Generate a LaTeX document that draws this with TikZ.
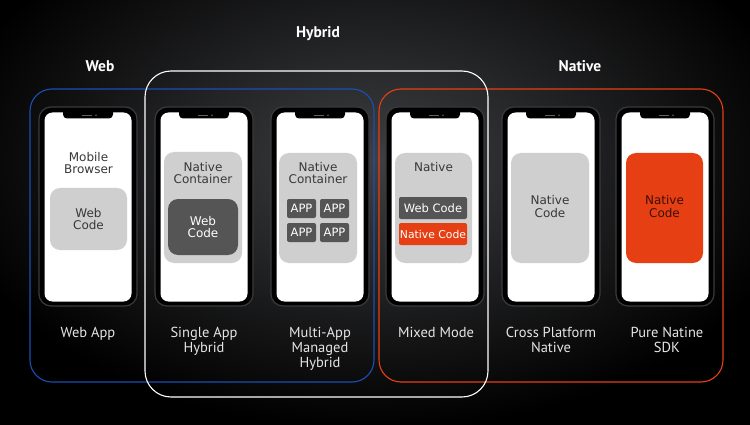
\documentclass[tikz,border=0pt]{standalone}
\usepackage{fontspec}
\setmainfont{PT Sans}
\newfontfamily\screenfont{DejaVu Sans}
\usetikzlibrary{positioning}
\definecolor{webblue}{HTML}{1B4FB4}
\definecolor{nativered}{HTML}{E63F14}
\definecolor{boxgray}{HTML}{CFCFCF}
\definecolor{appgray}{HTML}{555555}
\definecolor{bezel}{HTML}{3A3B3D}
\definecolor{bgmid}{HTML}{3E3F42}
\tikzset{
phone/.style={ % phone body with its rim
draw=bezel, line width=1.2,
fill=black, rounded corners=12,
minimum width=98, minimum height=199},
screen/.style={fill=white, rounded corners=8,
minimum width=87, minimum height=189},
notch/.style={fill=black, rounded corners=4,
minimum width=50, minimum height=10},
panel/.style={fill=boxgray, rounded corners=10,
minimum width=78, minimum height=110},
appbox/.style={fill=appgray, rounded corners=2, inner sep=0,
text=white, font=\screenfont\fontsize{11.5}{12}\selectfont},
scrtext/.style={text=black!78, align=center, inner sep=0,
font=\screenfont\fontsize{12}{12.5}\selectfont},
label/.style={text=white!90!black, align=center, inner sep=0,
anchor=north, font=\fontsize{14.5}{15}\selectfont},
title/.style={text=white, font=\fontsize{15.5}{17}\selectfont\bfseries},
group/.style={line width=1.1, rounded corners=22}}

\begin{document}
\begin{tikzpicture}[x=1pt, y=-1pt]
\useasboundingbox (0,0) rectangle (750,425);
\shade[inner color=bgmid, outer color=black] (-60,-110) rectangle (810,430);
% groups
\node[group, draw=webblue, minimum width=344, minimum height=293] (gweb) at (202,235.5) {};
\node[group, draw=nativered, minimum width=344, minimum height=293] (gnative) at (551,235.5) {};
\node[group, draw=white, rounded corners=26, minimum width=343, minimum height=326] (ghybrid) at (316.5,234) {};
\node[title] (tweb) at (100,66) {Web};
\node[title] (thybrid) at (318,34) {Hybrid};
\node[title] (tnative) at (580,66) {Native};
% phones
\foreach \i/\x in {1/88,2/204,3/320,4/435,5/551,6/665}{
\node[phone] (phone\i) at (\x,206.5) {};
\node[screen] (scr\i) at (\x,207) {};
\node[notch, anchor=north] (notch\i) at ([yshift=4pt]scr\i.north) {};
\fill[bezel!80!white] (\x-6,114.6) rectangle (\x+4,115.8);
\fill[bezel!80!white] (\x+8,115.2) circle (0.9);
}
% web app
\node[scrtext] (browser) at (88.5,163) {Mobile\\Browser};
\node[panel, minimum width=77, minimum height=62] (web1) at (88.5,219) {};
\node[scrtext] at (web1) {Web\\Code};
% single app hybrid
\node[panel, minimum height=111] (cont2) at (203,207.5) {};
\node[scrtext] (ctext2) at (203,173) {Native\\Container};
\node[fill=appgray, rounded corners=10, minimum width=70, minimum height=56] (web2) at (203,227) {};
\node[scrtext, text=white] at (web2) {Web\\Code};
% multi-app
\node[panel] (cont3) at (318,208) {};
\node[scrtext] (ctext3) at (318,173) {Native\\Container};
\node[appbox, minimum width=29, minimum height=19] (app1) at (301.5,208.5) {APP};
\node[appbox, minimum width=29, minimum height=19] (app2) at (334.5,208.5) {APP};
\node[appbox, minimum width=29, minimum height=19] (app3) at (301.5,232.5) {APP};
\node[appbox, minimum width=29, minimum height=19] (app4) at (334.5,232.5) {APP};
% mixed mode
\node[panel, minimum width=77] (cont4) at (433.5,208) {};
\node[scrtext] (ntext4) at (433.5,167) {Native};
\node[appbox, minimum width=68, minimum height=22] (webc4) at (433,208) {Web Code};
\node[appbox, fill=nativered, minimum width=68, minimum height=22,
font=\screenfont\fontsize{10.8}{12}\selectfont] (natc4) at (433,234) {Native Code};
% cross platform
\node[panel] (cont5) at (550,208) {};
\node[scrtext] at (550,206.5) {Native\\Code};
% pure native
\node[panel, fill=nativered, minimum width=77] (cont6) at (664.5,208) {};
\node[scrtext, text=black!75!nativered] at (664.5,206.5) {Native\\Code};
% labels
\node[label] (l1) at (88,327) {Web App};
\node[label] (l2) at (204,327) {Single App\\Hybrid};
\node[label] (l3) at (320,327) {Multi-App\\Managed\\Hybrid};
\node[label] (l4) at (436,327) {Mixed Mode};
\node[label] (l5) at (551,327) {Cross Platform\\Native};
\node[label] (l6) at (667,327) {Pure Natine\\SDK};
\end{tikzpicture}
\end{document}
